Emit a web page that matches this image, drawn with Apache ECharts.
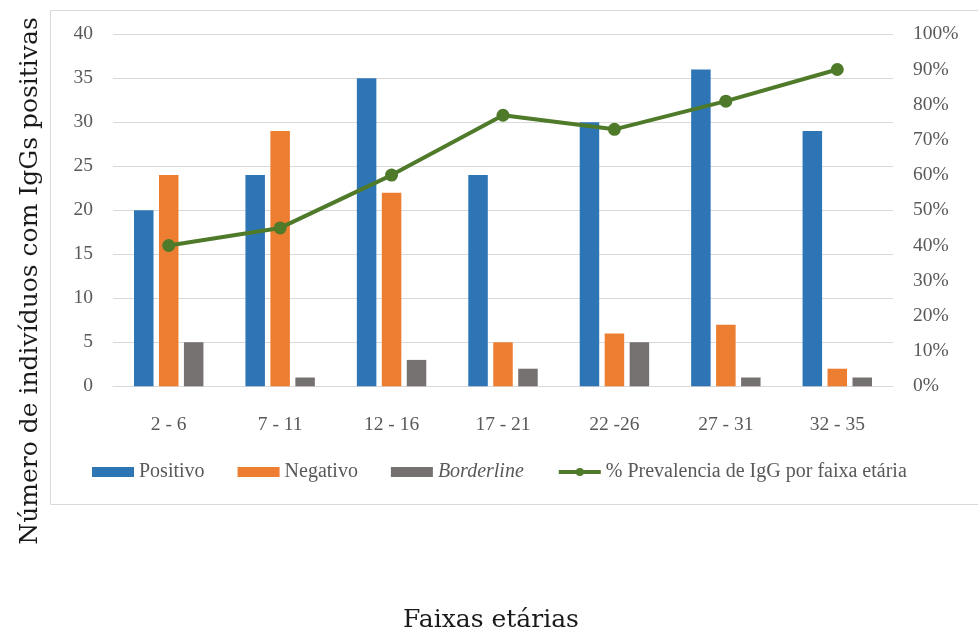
<!DOCTYPE html>
<html>
<head>
<meta charset="utf-8">
<script src="https://cdn.jsdelivr.net/npm/echarts@6/dist/echarts.min.js"></script>
<style>
html,body{margin:0;padding:0;background:#fff;}
#chart{width:978px;height:634px;}
</style>
</head>
<body>
<div id="chart"></div>
<script>
const categories = ['2 - 6', '7 - 11', '12 - 16', '17 - 21', '22 -26', '27 - 31', '32 - 35'];
const positivo = [20, 24, 35, 24, 30, 36, 29];
const negativo = [24, 29, 22, 5, 6, 7, 2];
const borderline = [5, 1, 3, 2, 5, 1, 1];
const prevalencia = [40, 45, 60, 77, 73, 81, 90];
const leftTicks = {min: 0, max: 40, interval: 5};
const rightTicks = {min: 0, max: 100, interval: 10};

const serif = '"Liberation Serif", "Times New Roman", serif';
const tickColor = '#595959';
const gridColor = '#D9D9D9';
const lineColor = '#4E7A2A';

const chart = echarts.init(document.getElementById('chart'), null, {renderer: 'canvas'});
chart.setOption({
  animation: false,
  backgroundColor: '#fff',
  grid: {left: 113, right: 85, top: 34.3, bottom: 634 - 386.3, containLabel: false},
  graphic: [
    {type: 'rect', shape: {x: 50.5, y: 10.5, width: 1000, height: 494}, style: {fill: 'none', stroke: gridColor, lineWidth: 1}, z: -1},
    {type: 'text', x: 30, y: 281, rotation: Math.PI / 2,
      style: {text: 'Número de indivíduos com IgGs positivas', font: '25px "DejaVu Serif"', fill: '#1a1a1a', textAlign: 'center', textVerticalAlign: 'middle'}},
    {type: 'text', x: 491, y: 620,
      style: {text: 'Faixas etárias', font: '25px "DejaVu Serif"', fill: '#1a1a1a', textAlign: 'center', textVerticalAlign: 'middle'}}
  ],
  legend: {
    left: 92, top: 462, padding: 0,
    itemWidth: 42, itemHeight: 10, itemGap: 33,
    textStyle: {fontFamily: serif, fontSize: 20, color: tickColor,
      rich: {i: {fontFamily: serif, fontSize: 20, color: tickColor, fontStyle: 'italic'}}},
    formatter: function (n) { return n === 'Borderline' ? '{i|Borderline}' : n; },
    data: [
      {name: 'Positivo', icon: 'rect'},
      {name: 'Negativo', icon: 'rect'},
      {name: 'Borderline', icon: 'rect'},
      {name: '% Prevalencia de IgG por faixa etária', lineStyle: {width: 4, color: lineColor}, itemStyle: {color: lineColor}}
    ]
  },
  xAxis: {
    type: 'category', data: categories,
    axisLine: {show: true, lineStyle: {color: gridColor, width: 1}},
    axisTick: {show: false},
    axisLabel: {fontFamily: serif, fontSize: 19.5, color: tickColor, margin: 29}
  },
  yAxis: [
    {type: 'value', min: leftTicks.min, max: leftTicks.max, interval: leftTicks.interval,
      axisLine: {show: false}, axisTick: {show: false},
      splitLine: {lineStyle: {color: gridColor, width: 1}},
      axisLabel: {fontFamily: serif, fontSize: 19.5, color: tickColor, margin: 20}},
    {type: 'value', min: rightTicks.min, max: rightTicks.max, interval: rightTicks.interval,
      position: 'right',
      axisLine: {show: false}, axisTick: {show: false}, splitLine: {show: false},
      axisLabel: {fontFamily: serif, fontSize: 19.5, color: tickColor, margin: 20, formatter: '{value}%'}}
  ],
  series: [
    {name: 'Positivo', type: 'bar', data: positivo, barWidth: 19.5, barGap: '28%', itemStyle: {color: '#2E75B6'}},
    {name: 'Negativo', type: 'bar', data: negativo, barWidth: 19.5, barGap: '28%', itemStyle: {color: '#ED7D31'}},
    {name: 'Borderline', type: 'bar', data: borderline, barWidth: 19.5, barGap: '28%', itemStyle: {color: '#767171'}},
    {name: '% Prevalencia de IgG por faixa etária', type: 'line', yAxisIndex: 1, data: prevalencia,
      symbol: 'circle', symbolSize: 13,
      lineStyle: {color: lineColor, width: 4},
      itemStyle: {color: lineColor}, z: 5}
  ]
});
</script>
</body>
</html>
